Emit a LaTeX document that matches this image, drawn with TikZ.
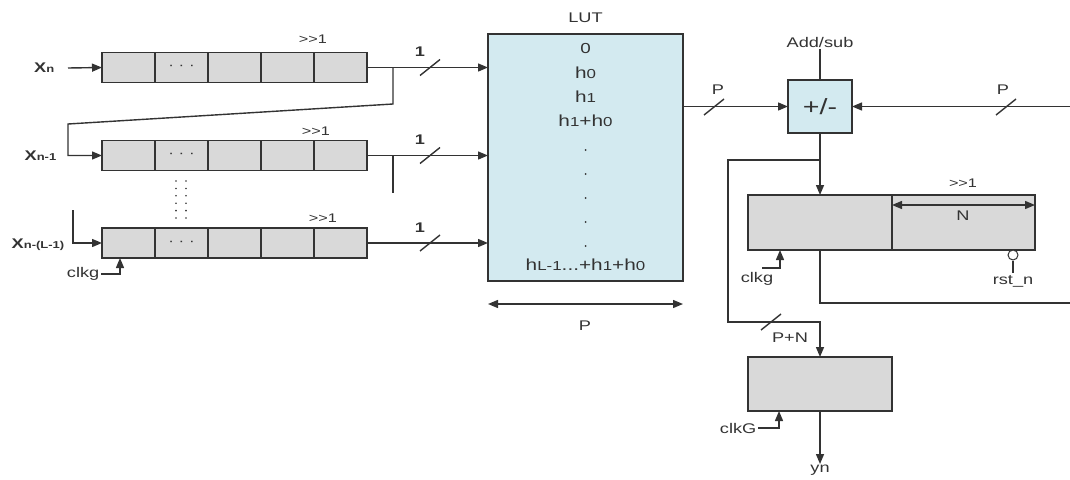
\documentclass[tikz,border=0pt]{standalone}
\usepackage{fontspec}
\setmainfont{Liberation Sans}[FakeStretch=1.3]
\usetikzlibrary{arrows.meta}
\definecolor{ln}{HTML}{333333}
\definecolor{regfill}{HTML}{D9D9D9}
\definecolor{lutfill}{HTML}{D3EAF0}
\newcommand\fs[1]{\fontsize{#1}{#1}\selectfont}
\newcommand\smtxt[1]{{\fs{13}#1}}
\tikzset{
  cell/.style={draw, fill=regfill, minimum width=53pt, minimum height=30pt, inner sep=0pt, outer sep=0pt},
  blk/.style={draw, fill=regfill, inner sep=0pt, outer sep=0pt},
  arr/.style={-{Triangle[length=10pt,width=8pt]}},
  darr/.style={{Triangle[length=10pt,width=8pt]}-{Triangle[length=10pt,width=8pt]}},
  lbl/.style={font=\fs{14}, inner sep=1pt},
  blbl/.style={font=\fs{14}\bfseries, inner sep=1pt},
  shl/.style={font=\fs{12.5}, inner sep=1pt},
  luttxt/.style={font=\fs{16}, inner sep=0pt},
  slashmark/.pic={\draw (-10,8) -- (10,-8);}
}
\begin{document}
\begin{tikzpicture}[x=1pt,y=-1pt,line width=1.4pt,color=ln]
\useasboundingbox (0,0) rectangle (1070,479);

% shift registers
\foreach \r/\yy in {1/67.5,2/155.5,3/243}{
  \foreach \i/\xx in {1/128.5,2/181.5,3/234.5,4/287.5,5/340.5}{
    \node[cell] (c\r\i) at (\xx,\yy) {};
  }
  \node[font=\fs{13}] at (c\r2) {· · ·};
}
\node[shl] at (313,39) {>\kern0pt>1};
\node[shl] at (316,131) {>\kern0pt>1};
\node[shl] at (323,218) {>\kern0pt>1};

% vertical dots
\foreach \yy in {181,188.4,195.8,203.2,210.6,218}{
  \fill (176,\yy) circle (0.9);
  \fill (186,\yy) circle (0.9);
}

% input labels
\node[blbl, anchor=east] (x1) at (56,68) {X{\fs{10}n}};
\node[blbl, anchor=east] (x2) at (58,155.5) {X{\fs{10}n-1}};
\node[blbl, anchor=east] (x3) at (66,245) {X{\fs{10}n-(L-1)}};

% LUT
\node[draw, fill=lutfill, minimum width=195pt, minimum height=247pt, inner sep=0pt, outer sep=0pt] (lut) at (585.5,157.5) {};
\node[lbl] (luttitle) at (585.5,18) {LUT};
\node[luttxt] (e0) at (585.5,49) {{\fs{14.5}0}};
\node[luttxt] (e1) at (585.5,73) {h\smtxt{0}};
\node[luttxt] (e2) at (585.5,97) {h\smtxt{1}};
\node[luttxt] (e3) at (585.5,121) {h\smtxt{1}+h\smtxt{0}};
\foreach \yy in {150,174,198,222,246}{
  \fill (585.5,\yy) circle (1);
}
\node[luttxt] (e4) at (585.5,265) {h\smtxt{L-1}...+h\smtxt{1}+h\smtxt{0}};
\draw[darr] ([yshift=-23pt]lut.south west) -- ([yshift=-23pt]lut.south east);
\node[lbl] (pw) at (585,326) {P};

% row connections
\coordinate (b1) at (393,67.5);
\coordinate (k1) at (393,104);
\coordinate (k2) at (68,124);
\draw[arr] (c15.east) -- (c15.east -| lut.west);
\draw[arr] (b1) -- (k1) -- (k2) -- (k2 |- c21.west) -- (c21.west);
\draw[arr] (x1.east) ++(12,0) -- (c11.west);
\coordinate (b2) at (393,155.5);
\coordinate (k3) at (393,193);
\draw[arr] (c25.east) -- (c25.east -| lut.west);
\draw (b2) -- (k3);
\coordinate (k4) at (73,210);
\draw[arr] (k4) |- (c31.west);
\draw[arr] (c35.east) -- (c35.east -| lut.west);

\pic at (430,67.5) {slashmark};
\pic at (430,155.5) {slashmark};
\pic at (430,243) {slashmark};
\node[blbl] at (420,52) {1};
\node[blbl] at (420,140) {1};
\node[blbl] at (420,228) {1};

% clkg row 3
\node[lbl, anchor=east] (clk1) at (101,274) {clkg};
\draw[arr] (clk1.east) -| ([xshift=18pt]c31.south west);

% adder
\node[draw, fill=lutfill, minimum width=64pt, minimum height=53pt, inner sep=0pt, outer sep=0pt, font=\fs{22}] (add) at (820,106.5) {+/-};
\node[lbl] (as) at (820,42) {Add/sub};
\draw (as.south) -- (add.north);
\draw[arr] (add.west -| lut.east) -- (add.west);
\pic at (714,107) {slashmark};
\node[lbl] at (718,90) {P};
\coordinate (j4) at (1070,106.5);
\draw[arr] (j4) -- (add.east);
\pic at (1006,107) {slashmark};
\node[lbl] at (1003,90) {P};

% accumulator
\node[blk, minimum width=144pt, minimum height=55pt] (accl) at (820,222.5) {};
\node[blk, minimum width=143pt, minimum height=55pt] (accr) at (963.5,222.5) {};
\draw[arr] (add.south) -- (accl.north);
\draw[darr] ([yshift=-10pt]accr.north west) -- ([yshift=-10pt]accr.north east);
\node[lbl] at (963,216) {N};
\node[shl] at (963,183) {>\kern0pt>1};
\node[circle, draw, fill=white, line width=1pt, minimum size=10pt, inner sep=0pt] (rc) at (1013,255) {};
\node[lbl] (rst) at (1013,281) {rst\_n};
\draw (rc.south) -- (rst.north);
\node[lbl] (clk2) at (757,279) {clkg};
\coordinate (ck2) at (762,268);
\draw[arr] (ck2) -| ([xshift=32pt]accl.south west);
\coordinate (j3) at (1070,303);
\draw (accl.south) |- (j3);

% branch to output register
\coordinate (j1) at (820,160);
\coordinate (j2) at (728,322);
\node[blk, minimum width=144pt, minimum height=54pt] (fin) at (820,384) {};
\draw[arr] (j1) -| (j2) -- (fin.north |- j2) -- (fin.north);
\pic at (771,322) {slashmark};
\node[lbl] at (790,338) {P+N};
\node[lbl, anchor=east] (clk3) at (758,428) {clkG};
\draw[arr] (clk3.east) -| ([xshift=31pt]fin.south west);
\node[lbl, anchor=north, inner sep=0pt] (yn) at (820,464) {yn};
\draw[arr] (fin.south) -- (yn.north);
\end{tikzpicture}
\end{document}
